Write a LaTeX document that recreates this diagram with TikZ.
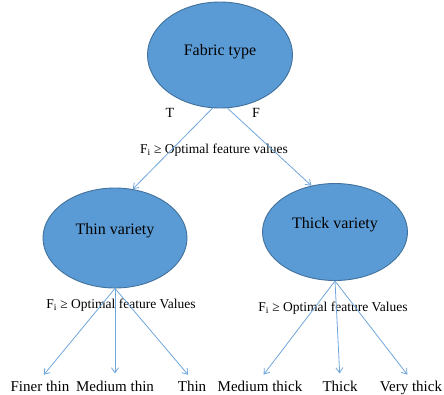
\documentclass[tikz,border=0pt]{standalone}
\usepackage{fontspec}
\setmainfont{Liberation Serif}
\usetikzlibrary{arrows.meta,shapes.geometric}
\definecolor{nodeblue}{RGB}{91,155,213}
\definecolor{rimblue}{RGB}{65,113,156}
\definecolor{arrowblue}{RGB}{112,166,220}

\begin{document}
\begin{tikzpicture}[x=1pt, y=-1pt,
  class/.style={ellipse, draw=rimblue, line width=0.9pt, fill=nodeblue, inner sep=0pt, text depth=11pt, font=\fontsize{16}{18}\selectfont},
  cond/.style={font=\fontsize{13.5}{15}\selectfont, inner sep=1pt},
  branch/.style={font=\fontsize{14}{16}\selectfont, inner sep=1pt},
  leaf/.style={font=\fontsize{15}{17}\selectfont, inner sep=1pt, anchor=base},
  arrow/.style={-{Straight Barb[length=5pt,width=7pt]}, draw=arrowblue, line width=0.8pt}
]
\useasboundingbox (0,0) rectangle (444,394);

\node[class, minimum width=145pt, minimum height=106pt] (fabric) at (220,55) {Fabric type};
\node[class, minimum width=144pt, minimum height=100pt, text depth=19pt] (thin) at (115,238) {Thin variety};
\node[class, minimum width=145pt, minimum height=97pt, text depth=19pt] (thick) at (335,232) {Thick variety};

\node[branch] (true) at (170,113) {T};
\node[branch] (false) at (256,113) {F};

\node[cond] (condtop) at (214,150) {F\textsubscript{i} ≥ Optimal feature values};
\node[cond] (condthin) at (121,305) {F\textsubscript{i} ≥ Optimal feature Values};
\node[cond] (condthick) at (333,308) {F\textsubscript{i} ≥ Optimal feature Values};

\node[leaf] (finer) at (40,391) {Finer thin};
\node[leaf] (medthin) at (115,391) {Medium thin};
\node[leaf] (thinleaf) at (192,391) {Thin};
\node[leaf] (medthick) at (260,391) {Medium thick};
\node[leaf] (thickleaf) at (340,391) {Thick};
\node[leaf] (verythick) at (411,391) {Very thick};

\draw[arrow] (fabric.262) -- (thin.70);
\draw[arrow] (fabric.278) -- (thick.117);
\draw[arrow, shorten >=6pt] (thin.south) -- (finer.north);
\draw[arrow, shorten >=6pt] (thin.south) -- (medthin.north);
\draw[arrow, shorten >=6pt] (thin.south) -- (thinleaf.north);
\draw[arrow, shorten >=6pt] (thick.south) -- (medthick.north);
\draw[arrow, shorten >=6pt] (thick.south) -- (thickleaf.north);
\draw[arrow, shorten >=6pt] (thick.south) -- (verythick.north);
\end{tikzpicture}
\end{document}
